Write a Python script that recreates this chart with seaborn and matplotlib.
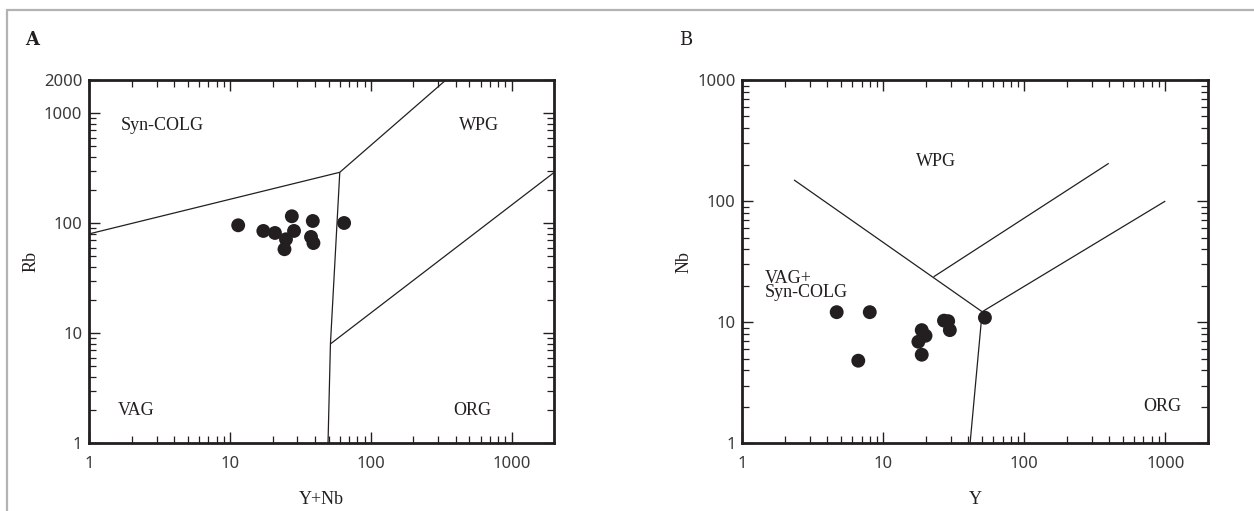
import numpy as np
import pandas as pd
import matplotlib
matplotlib.use("Agg")
import matplotlib.pyplot as plt
import seaborn as sns
from matplotlib.ticker import FixedLocator, FixedFormatter, LogLocator, NullFormatter
from matplotlib.lines import Line2D

# panel A: Rb vs Y+Nb
a_ynb = [11.4, 17.2, 20.8, 27.4, 28.4, 24.9, 24.3, 38.6, 37.5, 39.0, 64.4]
a_rb = [95.7, 85.0, 81.5, 115.6, 85.0, 71.4, 58.0, 104.7, 75.0, 66.0, 100.4]

# panel B: Nb vs Y
b_y = [4.66, 8.0, 6.63, 18.7, 19.9, 17.7, 18.7, 26.9, 28.8, 29.6, 52.5]
b_nb = [12.1, 12.1, 4.81, 8.6, 7.73, 6.9, 5.39, 10.3, 10.2, 8.6, 10.9]

# field boundaries (x list, y list)
a_bounds = [
    ([1, 60], [80, 290]),
    ([60, 340], [290, 2000]),
    ([60, 51.5, 49.5], [290, 8, 1]),
    ([51.5, 2000], [8, 290]),
]
b_bounds = [
    ([2.32, 50.2], [149.6, 12.2]),
    ([50.2, 1000], [12.2, 100]),
    ([50.2, 41.2], [12.2, 1]),
    ([22.7, 397], [23.7, 205]),
]

a_yticks = [1, 10, 100, 1000, 2000]
b_yticks = [1, 10, 100, 1000]
xticks = [1, 10, 100, 1000]

sns.set_style("ticks")
plt.rcParams['font.family'] = ['Noto Sans', 'DejaVu Sans']
serif = 'Liberation Serif'
ink = '#231f20'

fig = plt.figure(figsize=(12.54, 5.11), dpi=100)
axA = fig.add_axes([89.3 / 1254, 67.7 / 511, 465 / 1254, 363.3 / 511])
axB = fig.add_axes([742.5 / 1254, 67.7 / 511, 465.2 / 1254, 363.3 / 511])


def style(ax, yticks, ytop):
    ax.set_xscale('log')
    ax.set_yscale('log')
    ax.set_xlim(1, 2000)
    ax.set_ylim(1, ytop)
    ax.xaxis.set_major_locator(FixedLocator(xticks))
    ax.xaxis.set_major_formatter(FixedFormatter([str(t) for t in xticks]))
    ax.yaxis.set_major_locator(FixedLocator(yticks))
    ax.yaxis.set_major_formatter(FixedFormatter([str(t) for t in yticks]))
    for axis in (ax.xaxis, ax.yaxis):
        axis.set_minor_locator(LogLocator(base=10, subs=np.arange(2, 10), numticks=20))
        axis.set_minor_formatter(NullFormatter())
    ax.tick_params(which='both', direction='in', top=True, right=True,
                   color=ink, labelcolor='#3a3a3a', labelsize=12)
    ax.tick_params(which='major', length=8, width=1.0)
    ax.tick_params(which='minor', length=5, width=0.9)
    ax.tick_params(axis='x', pad=9)
    ax.tick_params(axis='y', pad=5)
    for s in ax.spines.values():
        s.set_linewidth(2.0)
        s.set_color(ink)


def draw(ax, xs, ys, bounds, xl, yl):
    df = pd.DataFrame({'x': xs, 'y': ys})
    for bx, by in bounds:
        ax.plot(bx, by, color=ink, lw=0.9, solid_capstyle='butt')
    sns.scatterplot(data=df, x='x', y='y', ax=ax, color=ink, s=100,
                    edgecolor='none', zorder=3)
    ax.set_xlabel(xl, family=serif, fontsize=13, color=ink, labelpad=14)
    ax.set_ylabel(yl, family=serif, fontsize=13, color=ink, labelpad=3)


style(axA, a_yticks, 2000)
draw(axA, a_ynb, a_rb, a_bounds, 'Y+Nb', 'Rb')
style(axB, b_yticks, 1000)
draw(axB, b_y, b_nb, b_bounds, 'Y', 'Nb')

lab = dict(family=serif, fontsize=13, color=ink, va='center')
axA.text(3.3, 773, 'Syn-COLG', ha='center', **lab)
axA.text(586, 773, 'WPG', ha='center', **lab)
axA.text(2.15, 1.98, 'VAG', ha='center', **lab)
axA.text(522, 1.98, 'ORG', ha='center', **lab)
axB.text(23.6, 211, 'WPG', ha='center', **lab)
axB.text(1.44, 20, 'VAG+\nSyn-COLG', ha='left', linespacing=0.8, **lab)
axB.text(950, 2.0, 'ORG', ha='center', **lab)

fig.text(25 / 1254, 1 - 40 / 511, 'A', family='DejaVu Serif', fontweight='bold',
         fontsize=13, color=ink, va='center')
fig.text(679 / 1254, 1 - 40 / 511, 'B', family='DejaVu Serif',
         fontsize=13, color=ink, va='center')

# light frame around the figure panel
fig.add_artist(Line2D([7 / 1254, 1], [1 - 10 / 511, 1 - 10 / 511],
                      transform=fig.transFigure, color='#b3b3b3', lw=1.6))
fig.add_artist(Line2D([7 / 1254, 7 / 1254], [0, 1 - 10 / 511],
                      transform=fig.transFigure, color='#b3b3b3', lw=1.6))

fig.savefig('out.png', dpi=100, facecolor='white')
